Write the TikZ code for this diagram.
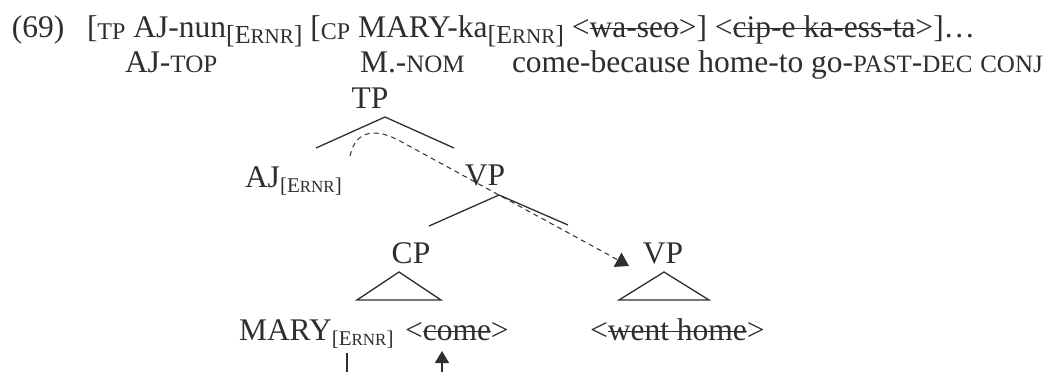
\documentclass[tikz,border=0pt]{standalone}
\usepackage{fontspec}
\setmainfont{Liberation Serif}
\usetikzlibrary{arrows.meta}
\definecolor{ink}{HTML}{2E2E2E}
% struck-through (deleted) material
\newsavebox\strkbox
\newcommand\strk[1]{\sbox\strkbox{#1}\rlap{\rule[0.24em]{\wd\strkbox}{1.3pt}}\usebox\strkbox}
% small capitals for glosses
\newcommand\fsc[1]{{\fontsize{25}{25}\selectfont #1}}
% category label subscripts of the bracketing
\newcommand\lab[1]{\raisebox{-2pt}{\fontsize{24}{24}\selectfont #1}}
% the [ERNR] feature subscript, in the example line and in the tree
\newcommand\featline{\raisebox{-6pt}{\fontsize{26}{26}\selectfont [E{\fontsize{21}{21}\selectfont RNR}]}}
\newcommand\feat{\raisebox{-5pt}{\fontsize{21}{21}\selectfont [E{\fontsize{17}{17}\selectfont RNR}]}}
\begin{document}
\begin{tikzpicture}[x=1pt,y=-1pt,
  every node/.style={inner sep=0pt, outer sep=0pt, anchor=base west, text=ink,
    font=\fontsize{31.5}{36}\selectfont},
  cat/.style={anchor=base},
  branch/.style={draw=ink, line width=1.3pt},
  movement/.style={draw=ink, line width=1pt, dash pattern=on 5pt off 4pt,
    -{Triangle[length=13pt,width=16pt]}},
  link/.style={draw=ink, line width=1.3pt}]
\useasboundingbox (0,0) rectangle (1055,372);

% example line and gloss
\node (ex) at (12,37) {(69)};
\node (l1) at (87,37) {[\lab{TP} AJ-nun\featline{} [\lab{CP} MARY-ka\featline{} <\strk{wa-seo}>] <\strk{cip-e ka-ess-ta}>]…};
\node (g1) at (125,72) {AJ-\fsc{TOP}};
\node (g2) at (360,72) {M.-\fsc{NOM}};
\node (g3) at (512,72) {come-because home-to go-\fsc{PAST}-\fsc{DEC} \fsc{CONJ}};

% tree labels
\node[cat] (tp) at (370,108) {TP};
\node (aj) at (245,187) {AJ\feat};
\node[cat] (vp) at (485,185) {VP};
\node[cat] (cp) at (411,263) {CP};
\node[cat] (vp2) at (663,263) {VP};
\node (mary) at (239,340) {MARY\feat};
\node (come) at (405,340) {<\strk{come}>};
\node (went) at (590,340) {<\strk{went home}>};

% branch points
\coordinate (tpA) at (385,117);
\coordinate (tpL) at (316,148);
\coordinate (tpR) at (454,148);
\coordinate (vpA) at (499,195);
\coordinate (vpL) at (429,226);
\coordinate (vpR) at (568,225);
\coordinate (cpA) at (399,272);
\coordinate (cpL) at (357,300);
\coordinate (cpR) at (441,300);
\coordinate (vqA) at (664,272);
\coordinate (vqL) at (619,300);
\coordinate (vqR) at (709,300);

\draw[branch] (tpL) -- (tpA) -- (tpR);
\draw[branch] (vpL) -- (vpA) -- (vpR);
\draw[branch] (cpA) -- (cpL) -- (cpR) -- cycle;
\draw[branch] (vqA) -- (vqL) -- (vqR) -- cycle;

% movement of the remnant VP
\coordinate (mvS) at (350,156);
\coordinate (mvK) at (400,141);
\coordinate (mvT) at (629,266);
\draw[movement] (mvS) .. controls (356,128) and (378,129) .. (mvK) -- (mvT);

% links continuing below
\coordinate (ernrFoot) at (347,353);
\coordinate (ernrEnd) at (347,372);
\coordinate (comeFoot) at (442,351);
\coordinate (comeEnd) at (442,372);
\draw[link] (ernrFoot) -- (ernrEnd);
\draw[link, -{Triangle[length=12pt,width=14pt]}] (comeEnd) -- (comeFoot);
\end{tikzpicture}
\end{document}
